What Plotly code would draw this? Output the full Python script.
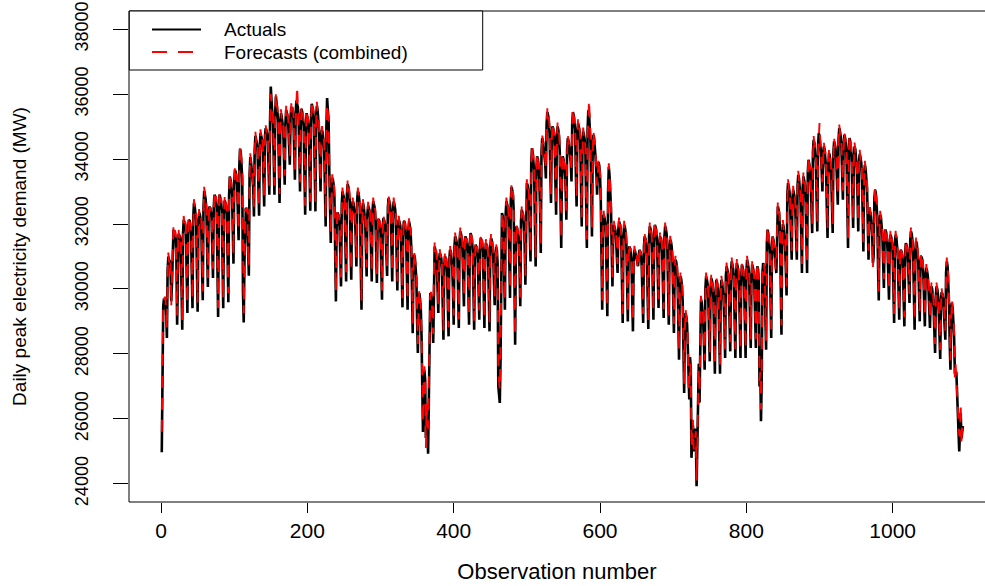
import plotly.graph_objects as go

# Daily peak electricity demand (MW), one line per week (Sun..Sat)
actuals = [
24970, 28100, 29470, 29700, 29650, 29560, 29300,
28490, 30600, 31000, 30900, 30850, 30620, 29620,
30200, 31580, 31820, 31760, 31700, 31550, 30900,
28900, 31300, 31700, 31650, 31600, 31400, 29950,
28745, 31700, 32130, 32050, 31980, 31750, 30410,
29260, 31800, 32130, 32100, 31950, 31700, 30500,
29410, 32200, 32645, 32550, 32400, 32100, 30640,
29300, 31950, 32340, 32300, 32200, 32000, 30730,
29650, 32500, 33025, 32900, 32750, 32400, 31200,
30060, 32200, 32540, 32480, 32400, 32200, 31220,
30340, 32500, 32900, 32850, 32750, 32500, 30700,
29135, 32400, 32900, 32800, 32700, 32400, 30800,
29410, 32300, 32725, 32650, 32550, 32300, 30840,
29590, 32900, 33465, 33350, 33200, 32900, 31860,
30780, 33300, 33670, 33600, 33450, 33200, 32370,
31500, 33800, 34316, 34200, 33900, 33400, 29900,
28970, 30800, 32300, 32500, 32400, 32200, 31300,
30410, 33500, 34060, 33900, 33700, 33400, 33100,
32230, 34300, 34717, 34600, 34500, 34200, 33270,
32255, 34400, 34800, 34700, 34600, 34300, 33500,
32540, 34700, 34950, 34900, 34800, 34500, 33700,
32900, 35200, 36236, 35800, 35500, 35100, 34000,
32900, 35400, 35928, 35700, 35500, 35200, 33800,
32645, 35000, 35415, 35300, 35150, 34900, 34100,
33209, 35100, 35518, 35400, 35300, 35000, 34530,
33825, 35300, 35600, 35550, 35500, 35200, 34300,
33363, 35400, 35800, 35700, 35600, 35300, 34000,
33004, 35200, 35538, 35450, 35300, 35000, 33600,
32286, 35000, 35415, 35300, 35150, 34800, 33700,
32409, 35300, 35702, 35600, 35450, 35100, 33700,
32390, 35300, 35641, 35500, 35300, 34900, 34000,
33004, 34600, 34900, 34800, 34600, 34300, 33100,
31927, 35000, 35877, 35500, 35210, 33600, 32300,
31414, 33100, 33414, 33350, 33200, 32800, 31100,
29618, 31900, 32358, 32300, 32200, 31900, 31250,
30080, 32600, 33004, 32900, 32800, 32500, 31430,
30234, 32900, 33230, 33150, 33000, 32700, 31260,
30285, 32400, 32696, 32650, 32500, 32300, 31620,
30696, 32700, 33004, 32950, 32800, 32500, 30700,
29362, 32300, 32645, 32550, 32400, 32100, 31260,
30388, 32300, 32563, 32500, 32400, 32150, 31170,
30234, 32400, 32696, 32600, 32500, 32200, 30970,
30183, 31900, 32152, 32100, 32000, 31700, 30670,
29670, 31900, 32183, 32100, 32000, 31700, 31100,
30400, 32500, 32799, 32700, 32600, 32300, 31250,
30234, 32400, 32696, 32600, 32450, 32100, 30830,
29957, 31900, 32132, 32050, 31950, 31600, 30500,
29434, 31800, 32100, 32050, 31900, 31600, 30450,
29362, 31800, 32080, 31950, 31800, 31300, 29600,
28640, 30800, 31055, 30950, 30700, 30300, 29000,
28028, 29600, 29874, 29700, 29400, 28600, 27200,
25600, 27300, 27500, 27200, 25410, 26300, 25900,
24930, 27300, 29300, 29874, 29800, 29600, 29200,
28336, 30900, 31311, 31200, 31100, 30700, 30000,
29260, 30900, 31106, 31050, 30950, 30600, 29500,
28438, 30700, 31004, 30950, 30850, 30500, 29610,
28541, 30900, 31208, 31150, 31000, 30700, 29990,
28900, 31300, 31619, 31550, 31450, 31100, 30000,
28797, 31500, 31773, 31700, 31550, 31200, 30330,
29465, 31400, 31619, 31550, 31450, 31100, 30030,
28900, 31400, 31721, 31650, 31500, 31150, 29990,
28745, 31100, 31362, 31300, 31200, 30900, 30060,
29054, 31300, 31568, 31500, 31400, 31100, 29900,
28797, 31100, 31414, 31350, 31250, 30900, 29850,
28695, 31300, 31568, 31500, 31350, 31000, 30400,
29500, 31000, 31300, 31200, 30800, 27000, 26700,
26489, 27800, 32000, 32337, 32250, 31900, 30500,
29362, 32300, 32696, 32600, 32500, 32100, 30900,
29720, 32700, 33137, 33050, 32900, 32400, 29800,
28284, 31500, 31927, 31850, 31700, 31400, 30650,
29465, 32100, 32440, 32350, 32250, 31900, 31380,
30131, 32900, 33260, 33200, 33050, 32700, 32000,
30850, 33900, 34338, 34200, 34000, 33600, 32050,
30696, 33700, 34081, 34000, 33800, 33400, 32500,
31106, 34200, 34646, 34550, 34400, 34100, 33900,
33400, 35100, 35446, 35350, 35200, 34800, 33760,
32645, 34700, 35005, 34950, 34800, 34400, 33370,
32286, 34700, 35005, 34900, 34700, 34200, 32760,
31260, 33800, 34081, 34000, 33800, 33500, 33100,
32132, 34300, 34646, 34550, 34400, 34100, 33900,
33312, 35100, 35446, 35350, 35200, 34900, 33560,
32542, 34800, 35107, 35000, 34850, 34500, 33100,
31927, 34500, 34851, 34750, 34600, 34200, 32700,
31260, 34900, 35500, 35400, 35100, 34500, 33070,
31619, 34400, 34748, 34650, 34400, 34000, 33600,
32900, 33700, 33900, 33800, 33500, 32800, 30500,
29362, 31900, 32286, 32200, 32050, 31700, 30380,
29157, 33000, 33753, 33500, 33100, 32500, 31200,
30080, 31700, 31978, 31900, 31800, 31500, 31130,
30490, 31800, 32080, 32000, 31900, 31500, 30140,
28951, 31600, 31978, 31900, 31750, 31400, 30130,
29000, 31000, 31311, 31250, 31150, 30800, 29740,
28695, 30900, 31208, 31150, 31050, 31000, 30850,
30700, 31050, 31200, 31150, 31050, 30700, 29850,
28951, 31300, 31619, 31550, 31400, 31000, 29900,
28766, 31600, 31927, 31850, 31700, 31300, 30220,
29054, 31700, 31978, 31900, 31750, 31400, 30450,
29413, 31400, 31619, 31550, 31450, 31100, 30230,
29105, 31600, 31927, 31850, 31700, 31300, 30150,
28900, 31200, 31516, 31450, 31300, 30900, 29550,
28644, 30600, 30901, 30850, 30700, 30300, 28850,
27823, 30100, 30388, 30300, 30100, 29600, 28200,
26797, 29000, 29259, 29150, 28900, 28200, 27000,
26600, 27900, 27600, 24800, 25500, 25800, 25200,
25000, 25700, 25500, 23924, 25600, 26300, 27700,
26500, 29200, 29670, 29600, 29400, 29000, 28400,
27515, 30000, 30388, 30300, 30150, 29700, 28810,
27771, 30000, 30337, 30250, 30100, 29700, 28550,
27392, 29900, 30285, 30200, 30050, 29600, 28500,
27392, 29950, 30285, 30200, 30000, 29600, 29000,
27874, 30400, 30696, 30600, 30450, 30000, 29100,
28079, 30500, 30850, 30750, 30600, 30200, 29050,
27874, 30450, 30800, 30700, 30550, 30100, 28900,
27874, 30400, 30747, 30650, 30500, 30100, 28900,
27874, 30500, 30901, 30800, 30650, 30200, 29170,
28182, 30400, 30750, 30650, 30500, 30100, 29200,
28182, 30400, 30696, 30600, 30300, 27000, 27600,
25924, 27200, 30500, 30798, 30700, 30400, 29200,
28130, 31400, 31824, 31700, 31500, 31100, 29740,
28490, 31300, 31619, 31500, 31300, 31000, 30750,
30490, 32200, 32542, 32450, 32300, 31700, 29950,
28592, 31600, 32000, 31900, 31700, 31300, 30600,
29800, 32900, 33260, 33150, 33000, 32500, 31600,
30901, 32800, 33055, 32950, 32800, 32400, 31600,
30901, 33200, 33517, 33400, 33200, 32800, 31700,
30490, 33100, 33465, 33350, 33200, 32700, 31600,
30490, 33600, 33978, 33850, 33700, 33200, 32600,
31721, 34200, 34594, 34500, 34300, 33900, 32800,
31773, 34400, 34800, 34700, 34500, 34200, 33600,
33000, 34200, 34390, 34300, 34100, 33700, 32500,
31568, 33800, 34184, 34100, 33900, 33500, 32600,
31721, 34200, 34543, 34450, 34300, 33900, 33100,
32594, 34600, 34953, 34850, 34700, 34300, 33600,
32748, 34500, 34748, 34650, 34500, 34000, 32600,
31260, 34300, 34646, 34550, 34350, 33900, 32900,
31875, 34100, 34390, 34300, 34100, 33700, 32800,
31773, 33900, 34163, 34050, 33900, 33500, 32400,
31157, 33500, 33825, 33700, 33500, 33100, 32000,
30900, 32200, 32400, 32300, 32100, 31700, 30800,
31000, 32800, 33055, 32950, 32700, 32200, 30700,
29649, 32000, 32286, 32200, 32000, 31600, 30800,
30029, 31600, 31824, 31750, 31600, 31200, 30400,
29670, 31400, 31670, 31600, 31450, 31100, 30000,
28951, 31400, 31670, 31600, 31400, 31000, 30000,
29054, 30950, 31208, 31150, 31000, 30600, 29800,
28849, 31100, 31414, 31350, 31200, 30800, 30100,
29567, 31500, 31773, 31700, 31500, 31000, 29800,
28745, 31200, 31465, 31400, 31200, 30800, 29900,
29003, 30800, 31003, 30950, 30800, 30400, 29800,
28849, 30400, 30644, 30550, 30400, 30000, 29500,
28800, 29900, 30080, 30000, 29800, 29400, 28700,
28028, 29800, 30080, 30000, 29800, 29300, 28600,
27843, 29700, 29900, 29850, 29700, 29300, 28900,
28438, 30500, 30850, 30700, 30300, 29600, 28300,
27515, 29300, 29567, 29400, 29100, 28500, 27412,
27400, 27450, 26800, 26181, 25500, 25000, 25600,
26181, 25400, 25700, 25780,
]

forecasts = [
25600, 27880, 29590, 29610, 29760, 29730, 29160,
28770, 30380, 31120, 30810, 30960, 30790, 29480,
30480, 31360, 31940, 31670, 31810, 31720, 30760,
29180, 31080, 31820, 31560, 31710, 31570, 29810,
29025, 31480, 32250, 31960, 32090, 31920, 30270,
29540, 31580, 32250, 32010, 32060, 31870, 30360,
29690, 31980, 32765, 32460, 32510, 32270, 30500,
29580, 31730, 32460, 32210, 32310, 32170, 30590,
29930, 32280, 33145, 32810, 32860, 32570, 31060,
30340, 31980, 32660, 32390, 32510, 32370, 31080,
30620, 32280, 33020, 32760, 32860, 32670, 30560,
29415, 32180, 33020, 32710, 32810, 32570, 30660,
29690, 32080, 32845, 32560, 32660, 32470, 30700,
29870, 32680, 33585, 33260, 33310, 33070, 31720,
31060, 33080, 33790, 33510, 33560, 33370, 32230,
31780, 33580, 34436, 34110, 34010, 33570, 29760,
29250, 30580, 32420, 32410, 32510, 32370, 31160,
30690, 33280, 34180, 33810, 33810, 33570, 32960,
32510, 34080, 34837, 34510, 34610, 34370, 33130,
32535, 34180, 34920, 34610, 34710, 34470, 33360,
32820, 34480, 35070, 34810, 34910, 34670, 33560,
33180, 34980, 36000, 35710, 35610, 35270, 33860,
33180, 35180, 36048, 35610, 35610, 35370, 33660,
32925, 34780, 35535, 35210, 35260, 35070, 33960,
33489, 34880, 35638, 35310, 35410, 35170, 34390,
34105, 35080, 35720, 35460, 35610, 35370, 34160,
33643, 35180, 35920, 36250, 35710, 35470, 33860,
33284, 34980, 35658, 35360, 35410, 35170, 33460,
32566, 34780, 35535, 35210, 35260, 34970, 33560,
32689, 35080, 35822, 35510, 35560, 35270, 33560,
32670, 35080, 35761, 35410, 35410, 35070, 33860,
33284, 34380, 35020, 34710, 34710, 34470, 32960,
32207, 34780, 35700, 35410, 35320, 33770, 32160,
31694, 32880, 33534, 33260, 33310, 32970, 30960,
29898, 31680, 32478, 32210, 32310, 32070, 31110,
30360, 32380, 33124, 32810, 32910, 32670, 31290,
30514, 32680, 33350, 33060, 33110, 32870, 31120,
30565, 32180, 32816, 32560, 32610, 32470, 31480,
30976, 32480, 33124, 32860, 32910, 32670, 30560,
29642, 32080, 32765, 32460, 32510, 32270, 31120,
30668, 32080, 32683, 32410, 32510, 32320, 31030,
30514, 32180, 32816, 32510, 32610, 32370, 30830,
30463, 31680, 32272, 32010, 32110, 31870, 30530,
29950, 31680, 32303, 32010, 32110, 31870, 30960,
30680, 32280, 32919, 32610, 32710, 32470, 31110,
30514, 32180, 32816, 32510, 32560, 32270, 30690,
30237, 31680, 32252, 31960, 32060, 31770, 30360,
29714, 31580, 32220, 31960, 32010, 31770, 30310,
29642, 31580, 32200, 31860, 31910, 31470, 29460,
28920, 30580, 31175, 30860, 30810, 30470, 28860,
28308, 29380, 29994, 29610, 29510, 28770, 27060,
25880, 27080, 27620, 27110, 25100, 26470, 25760,
25700, 27080, 29420, 29784, 29910, 29770, 29060,
28616, 30680, 31431, 31110, 31210, 30870, 29860,
29540, 30680, 31226, 30960, 31060, 30770, 29360,
28718, 30480, 31124, 30860, 30960, 30670, 29470,
28821, 30680, 31328, 31060, 31110, 30870, 29850,
29180, 31080, 31739, 31460, 31560, 31270, 29860,
29077, 31280, 31893, 31610, 31660, 31370, 30190,
29745, 31180, 31739, 31460, 31560, 31270, 29890,
29180, 31180, 31841, 31560, 31610, 31320, 29850,
29025, 30880, 31482, 31210, 31310, 31070, 29920,
29334, 31080, 31688, 31410, 31510, 31270, 29760,
29077, 30880, 31534, 31260, 31360, 31070, 29710,
28975, 31080, 31688, 31410, 31460, 31170, 30260,
29780, 30780, 31420, 31110, 30910, 27400, 27000,
26900, 28100, 32120, 32247, 32360, 32070, 30360,
29642, 32080, 32816, 32510, 32610, 32270, 30760,
30000, 32480, 33257, 32960, 33010, 32570, 29660,
28564, 31280, 32047, 31760, 31810, 31570, 30510,
29745, 31880, 32560, 32260, 32360, 32070, 31240,
30411, 32680, 33380, 33110, 33160, 32870, 31860,
31130, 33680, 34458, 34110, 34110, 33770, 31910,
30976, 33480, 34201, 33910, 33910, 33570, 32360,
31386, 33980, 34766, 34460, 34510, 34270, 33760,
33680, 34880, 35566, 35260, 35310, 34970, 33620,
32925, 34480, 35125, 34860, 34910, 34570, 33230,
32566, 34480, 35125, 34810, 34810, 34370, 32620,
31540, 33580, 34201, 33910, 33910, 33670, 32960,
32412, 34080, 34766, 34460, 34510, 34270, 33760,
33592, 34880, 35566, 35260, 35310, 35070, 33420,
32822, 34580, 35227, 34910, 34960, 34670, 32960,
32207, 34280, 34971, 34660, 34710, 34370, 32560,
31540, 34680, 35620, 35826, 35210, 34670, 32930,
31899, 34180, 34868, 34560, 34510, 34170, 33460,
33180, 33480, 34020, 33710, 33610, 32970, 30360,
29642, 31680, 32406, 32110, 32160, 31870, 30240,
29437, 32780, 33873, 33410, 33210, 32670, 31060,
30360, 31480, 32098, 31810, 31910, 31670, 30990,
30770, 31580, 32200, 31910, 32010, 31670, 30000,
29231, 31380, 32098, 31810, 31860, 31570, 29990,
29280, 30780, 31431, 31160, 31260, 30970, 29600,
28975, 30680, 31328, 31060, 31160, 31170, 30710,
30980, 30830, 31320, 31060, 31160, 30870, 29710,
29231, 31080, 31739, 31460, 31510, 31170, 29760,
29046, 31380, 32047, 31760, 31810, 31470, 30080,
29334, 31480, 32098, 31810, 31860, 31570, 30310,
29693, 31180, 31739, 31460, 31560, 31270, 30090,
29385, 31380, 32047, 31760, 31810, 31470, 30010,
29180, 30980, 31636, 31360, 31410, 31070, 29410,
28924, 30380, 31021, 30760, 30810, 30470, 28710,
28103, 29880, 30508, 30210, 30210, 29770, 28060,
27077, 28780, 29379, 29060, 29010, 28370, 26860,
26880, 27680, 27720, 25100, 25610, 25970, 25060,
25280, 25480, 25620, 24100, 25710, 26470, 27560,
26780, 28980, 29790, 29510, 29510, 29170, 28260,
27795, 29780, 30508, 30210, 30260, 29870, 28670,
28051, 29780, 30457, 30160, 30210, 29870, 28410,
27672, 29680, 30405, 30110, 30160, 29770, 28360,
27672, 29730, 30405, 30110, 30110, 29770, 28860,
28154, 30180, 30816, 30510, 30560, 30170, 28960,
28359, 30280, 30970, 30660, 30710, 30370, 28910,
28154, 30230, 30920, 30610, 30660, 30270, 28760,
28154, 30180, 30867, 30560, 30610, 30270, 28760,
28154, 30280, 31021, 30710, 30760, 30370, 29030,
28462, 30180, 30870, 30560, 30610, 30270, 29060,
28462, 30180, 30816, 30510, 30410, 27170, 27460,
26300, 27480, 30620, 30708, 30810, 30570, 29060,
28410, 31180, 31944, 31610, 31610, 31270, 29600,
28770, 31080, 31739, 31410, 31410, 31170, 30610,
30770, 31980, 32662, 32360, 32410, 31870, 29810,
28872, 31380, 32120, 31810, 31810, 31470, 30460,
30080, 32680, 33380, 33060, 33110, 32670, 31460,
31181, 32580, 33175, 32860, 32910, 32570, 31460,
31181, 32980, 33637, 33310, 33310, 32970, 31560,
30770, 32880, 33585, 33260, 33310, 32870, 31460,
30770, 33380, 34098, 33760, 33810, 33370, 32460,
32001, 33980, 34714, 34410, 34410, 34070, 32660,
32053, 34180, 34920, 35107, 34610, 34370, 33460,
33280, 33980, 34510, 34210, 34210, 33870, 32360,
31848, 33580, 34304, 34010, 34010, 33670, 32460,
32001, 33980, 34663, 34360, 34410, 34070, 32960,
32874, 34380, 35073, 34760, 34810, 34470, 33460,
33028, 34280, 34868, 34560, 34610, 34170, 32460,
31540, 34080, 34766, 34460, 34460, 34070, 32760,
32155, 33880, 34510, 34210, 34210, 33870, 32660,
32053, 33680, 34283, 33960, 34010, 33670, 32260,
31437, 33280, 33945, 33610, 33610, 33270, 31860,
31180, 31980, 32520, 32210, 32210, 31870, 30660,
31280, 32580, 33175, 32860, 32810, 32370, 30560,
29929, 31780, 32406, 32110, 32110, 31770, 30660,
30309, 31380, 31944, 31660, 31710, 31370, 30260,
29950, 31180, 31790, 31510, 31560, 31270, 29860,
29231, 31180, 31790, 31510, 31510, 31170, 29860,
29334, 30730, 31328, 31060, 31110, 30770, 29660,
29129, 30880, 31534, 31260, 31310, 30970, 29960,
29847, 31280, 31893, 31610, 31610, 31170, 29660,
29025, 30980, 31585, 31310, 31310, 30970, 29760,
29283, 30580, 31123, 30860, 30910, 30570, 29660,
29129, 30180, 30764, 30460, 30510, 30170, 29360,
29080, 29680, 30200, 29910, 29910, 29570, 28560,
28308, 29580, 30200, 29910, 29910, 29470, 28460,
28123, 29480, 30020, 29760, 29810, 29470, 28760,
28718, 30280, 30970, 30610, 30410, 29770, 28160,
27795, 29080, 29687, 29310, 29210, 28670, 27272,
27680, 27230, 26920, 26091, 25610, 25500, 25460,
26461, 25180, 25820, 25690,
]

obs_actuals = list(range(1, len(actuals) + 1))
obs_forecasts = list(range(1, len(forecasts) + 1))

x_tick_values = [0, 200, 400, 600, 800, 1000]
x_tick_labels = ["0", "200", "400", "600", "800", "1000"]
y_tick_values = [24000, 26000, 28000, 30000, 32000, 34000, 36000, 38000]
y_tick_labels = ["24000", "26000", "28000", "30000", "32000", "34000", "36000", "38000"]
series_names = ["Actuals", "Forecasts (combined)"]
x_title = "Observation number"
y_title = "Daily peak electricity demand (MW)"

FONT = "Liberation Sans, Arial, Helvetica, sans-serif"

fig = go.Figure()
fig.add_trace(go.Scatter(
    x=obs_actuals, y=actuals, mode="lines", name=series_names[0],
    line=dict(color="#000000", width=2.6)))
fig.add_trace(go.Scatter(
    x=obs_forecasts, y=forecasts, mode="lines", name=series_names[1],
    line=dict(color="#ff0000", width=1.9, dash="12px,10px")))

fig.update_layout(
    width=985, height=586, autosize=False,
    margin=dict(l=129, r=0, t=11, b=84, pad=0),
    paper_bgcolor="white", plot_bgcolor="white",
    showlegend=False,
    font=dict(family=FONT, color="black"),
)
fig.update_xaxes(
    range=[-43.8, 1126.2], tickvals=x_tick_values, ticktext=x_tick_labels,
    ticks="outside", ticklen=10, tickwidth=1, tickcolor="black",
    showgrid=False, zeroline=False, showline=False,
    tickfont=dict(size=21, family=FONT),
    title=dict(text=x_title, font=dict(size=22, family=FONT), standoff=22),
)
fig.update_yaxes(
    range=[23440, 38560], tickvals=y_tick_values, ticktext=y_tick_labels, tickangle=-90,
    ticks="outside", ticklen=15, tickwidth=1, tickcolor="black",
    showgrid=False, zeroline=False, showline=False,
    tickfont=dict(size=18, family=FONT), ticklabelstandoff=18,
    title=dict(text=y_title, font=dict(size=19, family=FONT), standoff=40),
)

# plot frame (right edge falls just outside the page, as in the original)
fig.add_shape(type="rect", xref="paper", yref="paper", x0=0, x1=1.015, y0=0, y1=1,
              line=dict(color="black", width=1), fillcolor="rgba(0,0,0,0)", layer="above")

# legend box drawn R-style in the top-left corner
def px_x(px):
    return (px - 129) / 856.0

def px_y(py):
    return (502 - py) / 491.0

legend_rows = [29.5, 52.0]

fig.add_shape(type="rect", xref="paper", yref="paper",
              x0=px_x(129.3), x1=px_x(482.7), y0=px_y(70), y1=px_y(11),
              line=dict(color="black", width=1), fillcolor="white", layer="above")
fig.add_shape(type="line", xref="paper", yref="paper",
              x0=px_x(152), x1=px_x(201), y0=px_y(legend_rows[0]), y1=px_y(legend_rows[0]),
              line=dict(color="#000000", width=2.2), layer="above")
fig.add_shape(type="line", xref="paper", yref="paper",
              x0=px_x(152), x1=px_x(201), y0=px_y(legend_rows[1]), y1=px_y(legend_rows[1]),
              line=dict(color="#ff0000", width=2, dash="15px,11px"), layer="above")
for name, py in zip(series_names, legend_rows):
    fig.add_annotation(text=name, xref="paper", yref="paper", x=px_x(222), y=px_y(py),
                       xanchor="left", yanchor="middle", showarrow=False,
                       font=dict(size=19, family=FONT, color="black"))

fig.write_html("out.html")
